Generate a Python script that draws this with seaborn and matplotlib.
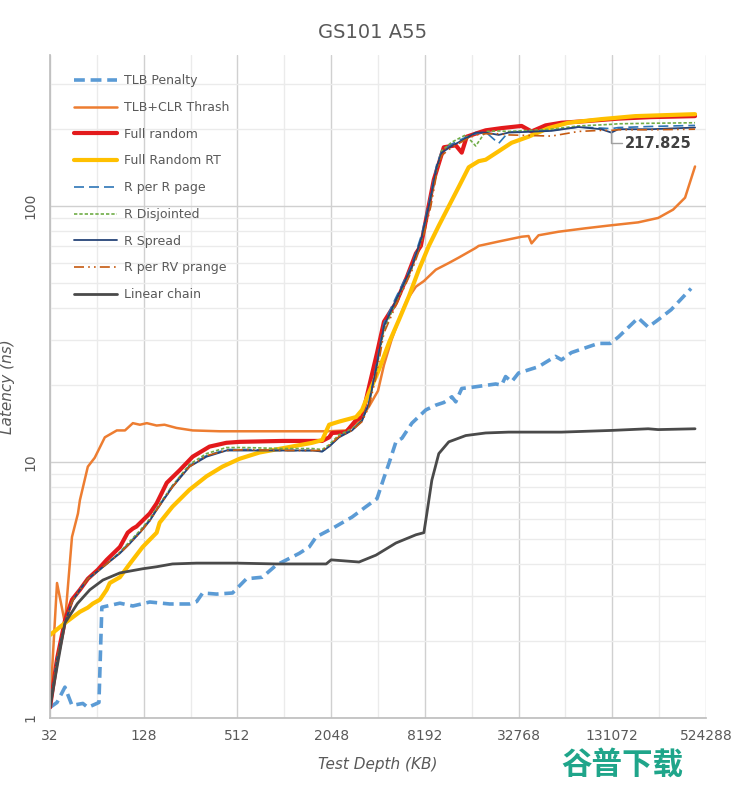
import matplotlib
matplotlib.use("Agg")
import matplotlib.pyplot as plt
import matplotlib.ticker as mticker
import seaborn as sns
import pandas as pd

# ---------------- data (Test depth in KB, latency in ns) ----------------
tlb_pen_x = [32, 35.5, 39.9, 44.3, 52, 56, 64, 66, 68.9, 90, 109, 140, 188, 252, 280, 306, 376, 476,
             585, 740, 910, 1152, 1278, 1481, 1641, 2078, 2791, 3432, 4037, 4476, 4819, 5341, 5838,
             6763, 8313, 9635, 10842, 11670, 12198, 12943, 14138, 17377, 23347, 25497, 27043, 29549,
             32768, 44025, 56543, 61795, 71626, 106621, 127294, 143232, 192244, 222869, 258362,
             312788, 420262]
tlb_pen_y = [1.10, 1.15, 1.32, 1.12, 1.14, 1.10, 1.14, 1.15, 2.71, 2.81, 2.74, 2.84, 2.79, 2.79, 2.85,
             3.08, 3.05, 3.08, 3.5, 3.55, 3.96, 4.26, 4.4, 4.66, 5.1, 5.5, 6.1, 6.7, 7.2, 8.7, 9.9, 12.0,
             12.4, 14.2, 16.0, 16.7, 17.1, 17.6, 18.0, 17.2, 19.4, 19.7, 20.2, 20.0, 21.6, 20.6, 22.3,
             23.6, 25.9, 25.1, 26.8, 29.1, 29.1, 30.8, 36.6, 33.7, 36.0, 39.4, 47.7]

thrash_x = [32, 35.5, 39.9, 44.3, 48.4, 49.8, 56, 62, 72, 86, 97, 109, 121, 134, 155, 174, 208, 264,
            393, 527, 1000, 1988, 2555, 3095, 3587, 4096, 4476, 5000, 5838, 6283, 7177, 8074, 9635,
            11670, 13524, 17377, 18166, 24404, 34259, 37985, 39711, 44025, 59106, 88057, 123545,
            192244, 258362, 322301, 384645, 445721]
thrash_y = [1.1, 3.37, 2.35, 5.1, 6.3, 7.1, 9.6, 10.4, 12.5, 13.3, 13.3, 14.2, 14.0, 14.2, 13.9, 14.0,
            13.6, 13.3, 13.2, 13.2, 13.2, 13.2, 13.3, 14.5, 16.5, 19, 24, 30, 38.8, 43, 48.5, 51, 56.5,
            60, 63, 68.7, 70, 72.8, 76, 76.5, 71.6, 77, 79.5, 82, 84, 86.5, 90, 97, 108, 143]

fullr_x = [32, 35.5, 39.9, 44.3, 49.8, 56, 65, 74, 90, 101, 109, 115, 140, 155, 180, 218, 264, 339,
           435, 527, 1000, 1794, 1988, 2078, 2555, 2961, 3236, 3587, 4037, 4476, 5341, 6283, 7177,
           7722, 8313, 9355, 10842, 12943, 14138, 15218, 18166, 20140, 25497, 34259, 39711, 48813,
           61795, 88057, 143232, 232980, 445721]
fullr_y = [1.1, 1.7, 2.4, 2.9, 3.17, 3.5, 3.8, 4.15, 4.66, 5.3, 5.5, 5.6, 6.3, 6.9, 8.3, 9.3, 10.5,
           11.5, 11.9, 12.0, 12.1, 12.1, 12.5, 13.0, 13.1, 14.6, 15, 19.7, 26.7, 35.4, 41.9, 52.9,
           65.4, 70, 88, 127, 170, 173, 162, 187, 194, 198, 202, 206, 196, 207, 212, 215, 220, 223, 225]

fullrt_x = [32, 39.9, 49.8, 56, 60.3, 67, 74, 77.5, 90, 104, 126, 155, 162, 196, 252, 324, 410, 527,
            708, 1055, 1548, 1794, 1988, 2304, 2961, 3236, 3587, 4157, 4819, 5585, 6472, 7498, 8690,
            10070, 11670, 13524, 15673, 18166, 20140, 24404, 29549, 37985, 51017, 68513, 111453,
            183927, 445721]
fullrt_y = [2.11, 2.35, 2.6, 2.7, 2.8, 2.9, 3.17, 3.37, 3.55, 4.0, 4.66, 5.3, 5.8, 6.7, 7.8, 8.8, 9.6,
            10.3, 10.9, 11.4, 11.9, 12.2, 14.0, 14.4, 15.0, 16.0, 18.7, 23, 29.3, 36, 44.5, 56.5, 70,
            84, 100, 119, 142, 150, 152, 164, 177, 187, 202, 212, 219, 225, 229]

rgroup_x = [32, 35.5, 39.9, 44.3, 49.8, 56, 65, 74, 90, 104, 121, 140, 155, 196, 252, 324, 435, 585,
            1000, 1548, 1794, 1988, 2304, 2791, 3236, 3587, 3975, 4476, 5341, 6763, 7836, 8952, 9776,
            10527, 12198, 14995, 17377, 20140, 24404, 28271, 53314, 79418, 111453, 129178, 143232,
            232980, 445721]
rpage_y = [1.1, 1.7, 2.35, 2.85, 3.17, 3.5, 3.75, 4.0, 4.45, 4.85, 5.35, 5.95, 6.55, 8.1, 9.7, 10.6,
           11.2, 11.2, 11.1, 11.1, 11.0, 11.5, 12.6, 13.4, 14.6, 17.2, 23.5, 35, 44, 59, 78, 112, 146,
           165, 175, 186, 192, 195, 176, 195, 198, 204, 202, 201, 203, 205, 207]
rdisj_y = [1.1, 1.7, 2.35, 2.85, 3.17, 3.5, 3.75, 4.0, 4.45, 4.9, 5.4, 6.0, 6.6, 8.1, 9.8, 10.8, 11.4,
           11.4, 11.3, 11.3, 11.2, 11.7, 12.8, 13.5, 14.6, 17.0, 22.5, 33, 42, 57, 75, 107, 140, 165,
           178, 190, 172, 196, 197, 196, 200, 206, 208, 209, 210, 211, 212]
rspread_y = [1.1, 1.7, 2.35, 2.85, 3.17, 3.5, 3.75, 4.0, 4.4, 4.8, 5.3, 5.9, 6.5, 8.0, 9.6, 10.5, 11.1,
             11.1, 11.1, 11.1, 11.0, 11.5, 12.5, 13.3, 14.5, 17, 23, 34, 43, 58, 76, 109, 143, 162, 172,
             184, 194, 194, 190, 194, 197, 204, 200, 194, 200, 200, 203]
rprange_y = [1.1, 1.7, 2.35, 2.85, 3.17, 3.5, 3.75, 4.0, 4.4, 4.8, 5.3, 5.9, 6.5, 8.0, 9.6, 10.6, 11.1,
             11.2, 11.1, 11.1, 11.1, 11.6, 12.6, 13.3, 14.4, 16.5, 21.5, 32, 41, 56, 72, 100, 135, 158,
             170, 182, 190, 192, 192, 190, 188, 196, 198, 198, 199, 199, 200]

linear_x = [32, 35.5, 39.9, 48, 57.7, 70, 90, 126, 155, 196, 280, 505, 910, 1903, 2048, 3095, 3975,
            5341, 7177, 8074, 8438, 9084, 10070, 11670, 14995, 20140, 28271, 61795, 129178, 222869,
            258362, 445721]
linear_y = [1.1, 1.58, 2.35, 2.8, 3.17, 3.46, 3.69, 3.83, 3.9, 4.0, 4.03, 4.03, 4.0, 4.0, 4.15, 4.07,
            4.33, 4.83, 5.2, 5.3, 6.3, 8.5, 10.8, 12.0, 12.7, 13.0, 13.1, 13.1, 13.3, 13.5, 13.4, 13.5]

x_ticks = [32, 128, 512, 2048, 8192, 32768, 131072, 524288]
y_ticks = [1, 10, 100]

series = [
    ("TLB Penalty", tlb_pen_x, tlb_pen_y),
    ("TLB+CLR Thrash", thrash_x, thrash_y),
    ("Full random", fullr_x, fullr_y),
    ("Full Random RT", fullrt_x, fullrt_y),
    ("R per R page", rgroup_x, rpage_y),
    ("R Disjointed", rgroup_x, rdisj_y),
    ("R Spread", rgroup_x, rspread_y),
    ("R per RV prange", rgroup_x, rprange_y),
    ("Linear chain", linear_x, linear_y),
]
styles = {
    "TLB Penalty": dict(color="#5B9BD5", lw=2.6, ls=(0, (3, 1.6))),
    "TLB+CLR Thrash": dict(color="#ED7D31", lw=1.8, ls="-"),
    "Full random": dict(color="#E31A1C", lw=3.0, ls="-"),
    "Full Random RT": dict(color="#FFC000", lw=3.0, ls="-"),
    "R per R page": dict(color="#2E75B6", lw=1.2, ls=(0, (6, 3))),
    "R Disjointed": dict(color="#70AD47", lw=1.2, ls=(0, (2, 1.2))),
    "R Spread": dict(color="#264478", lw=1.3, ls="-"),
    "R per RV prange": dict(color="#C55A11", lw=1.2, ls=(0, (6, 2.5, 1, 2.5, 1, 2.5))),
    "Linear chain": dict(color="#4A4A4A", lw=2.0, ls="-"),
}

sns.set_theme(style="white")
plt.rcParams["font.family"] = ["DejaVu Sans", "Noto Sans CJK SC"]

fig = plt.figure(figsize=(7.4, 7.87), dpi=100)
ax = fig.add_axes([50 / 740, 69 / 787, 656 / 740, 663 / 787])

for name, xs, ys in series:
    df = pd.DataFrame({"x": xs, "y": ys})
    st = styles[name]
    sns.lineplot(data=df, x="x", y="y", ax=ax, color=st["color"], linewidth=st["lw"],
                 linestyle=st["ls"], label=name, sort=False, estimator=None)

ax.set_xscale("log", base=2)
ax.set_yscale("log")
ax.set_xlim(32, 524288)
ax.set_ylim(1, 390)

ax.xaxis.set_major_locator(mticker.FixedLocator(x_ticks))
ax.xaxis.set_major_formatter(mticker.FixedFormatter([str(v) for v in x_ticks]))
ax.xaxis.set_minor_locator(mticker.FixedLocator([v * 2 for v in x_ticks[:-1]]))
ax.xaxis.set_minor_formatter(mticker.NullFormatter())
ax.yaxis.set_major_locator(mticker.FixedLocator(y_ticks))
ax.yaxis.set_major_formatter(mticker.FixedFormatter([str(v) for v in y_ticks]))
ax.yaxis.set_minor_locator(mticker.LogLocator(base=10, subs=range(2, 10)))
ax.yaxis.set_minor_formatter(mticker.NullFormatter())

ax.grid(True, which="major", color="#D0D0D0", lw=1.0)
ax.grid(True, which="minor", color="#EBEBEB", lw=1.0)
ax.set_axisbelow(True)

for s in ["top", "right"]:
    ax.spines[s].set_visible(False)
ax.spines["left"].set_color("#BFBFBF")
ax.spines["bottom"].set_color("#BFBFBF")

ax.tick_params(axis="x", which="both", length=0, labelsize=10, labelcolor="#595959", pad=8)
ax.tick_params(axis="y", which="major", length=5, color="#BFBFBF", labelsize=10,
               labelcolor="#595959", pad=4)
ax.tick_params(axis="y", which="minor", length=0)
for lab in ax.get_yticklabels():
    lab.set_rotation(90)
    lab.set_va("center")

ax.set_xlabel("Test Depth (KB)", fontsize=11, color="#595959", style="italic", labelpad=10)
ax.set_ylabel("Latency (ns)", fontsize=11, color="#595959", style="italic", labelpad=6)
fig.text(373 / 740, 1 - 32 / 787, "GS101 A55", ha="center", va="center",
         fontsize=14, color="#595959")

leg = ax.legend(loc="upper left", bbox_to_anchor=(0.017, 0.99), frameon=False, fontsize=9,
                labelcolor="#595959", handlelength=3.5, handletextpad=0.5, labelspacing=1.1,
                borderaxespad=0.6)

ax.annotate("217.825", xy=(129178, 196), xytext=(258362, 176), ha="center", va="center",
            fontsize=10.5, fontweight="bold", color="#404040",
            arrowprops=dict(arrowstyle="-", color="#A0A0A0", lw=1,
                            connectionstyle="angle,angleA=0,angleB=90,rad=0",
                            shrinkA=28, shrinkB=0))

fig.text(622 / 740, 1 - 765 / 787, "谷普下载", ha="center", va="center", fontsize=22,
         fontweight="bold", color="#1FA58A", family=["Noto Sans CJK SC", "DejaVu Sans"])

fig.savefig("out.png", dpi=100, facecolor="white")
